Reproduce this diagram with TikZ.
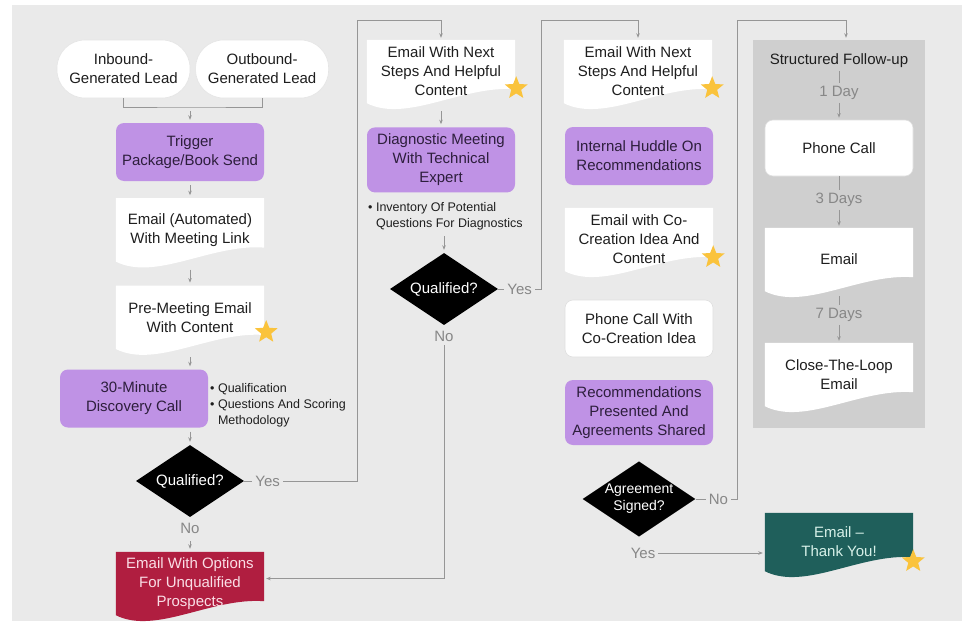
\documentclass[tikz,border=0pt]{standalone}
\usepackage{fontspec}
\setmainfont{Liberation Sans}
\usetikzlibrary{positioning,shapes.geometric,arrows.meta,calc}

\definecolor{pagegray}{RGB}{234,234,234}
\definecolor{panelgray}{RGB}{207,207,207}
\definecolor{purplefill}{RGB}{191,146,229}
\definecolor{purpletext}{RGB}{45,30,60}
\definecolor{redfill}{RGB}{176,30,64}
\definecolor{redtext}{RGB}{250,222,230}
\definecolor{tealfill}{RGB}{31,95,91}
\definecolor{tealtext}{RGB}{214,240,232}
\definecolor{linegray}{RGB}{150,150,150}
\definecolor{labelgray}{RGB}{135,135,135}
\definecolor{starfill}{RGB}{250,195,60}
\definecolor{inktext}{RGB}{30,30,30}

\newcommand{\boxfont}{\fontsize{15pt}{19pt}\selectfont}
\newcommand{\notefont}{\fontsize{12.5pt}{16pt}\selectfont}
\newcommand{\diafont}{\fontsize{14pt}{17pt}\selectfont}

\pgfdeclarelayer{back}
\pgfdeclarelayer{docs}
\pgfsetlayers{back,docs,main}

% wavy document outline behind a node
\newcommand{\docshape}[2]{%
  \begin{pgfonlayer}{docs}
    \fill[#2] (#1.north west) -- (#1.north east) -- ($(#1.south east)+(0,-14)$)
      .. controls ($(#1.south east)+(-53,-18)$) and ($(#1.south west)+(40,20)$) .. (#1.south west) -- cycle;
  \end{pgfonlayer}}

\begin{document}
\begin{tikzpicture}[x=1pt, y=-1pt,
    pillnode/.style={rectangle, rounded corners=28pt, fill=white, draw=gray!20, line width=0.6pt, minimum width=133pt, minimum height=58pt, align=center, text=inktext, font=\boxfont},
    purplenode/.style={rectangle, rounded corners=8pt, fill=purplefill, text=purpletext, minimum width=148pt, minimum height=58pt, align=center, font=\boxfont},
    docnode/.style={rectangle, minimum width=148pt, minimum height=63pt, align=center, text=inktext, font=\boxfont},
    roundnode/.style={rectangle, rounded corners=8pt, fill=white, draw=gray!25, line width=0.6pt, minimum width=148pt, minimum height=57pt, align=center, text=inktext, font=\boxfont},
    decisionnode/.style={diamond, fill=black, text=white, minimum width=108pt, minimum height=72pt, inner sep=0pt, shape aspect=1.5, align=center, font=\boxfont},
    labelnode/.style={text=labelgray, inner sep=3pt, font=\boxfont},
    notenode/.style={align=left, text=inktext, inner sep=2pt, font=\notefont},
    starnode/.style={star, star points=5, star point ratio=2.3, fill=starfill, minimum size=24pt, inner sep=0pt},
    panelnode/.style={rectangle, fill=panelgray, minimum width=172pt, minimum height=388pt},
    link/.style={draw=linegray, line width=0.8pt},
    arr/.style={link, -{Stealth[length=4.5pt,width=3.5pt]}, shorten >=2pt},
    stub/.style={arr, shorten <=4pt, shorten >=3pt}]

    \useasboundingbox (0,0) rectangle (969,629);
    \begin{pgfonlayer}{back}
        \fill[white] (0,0) rectangle (969,629);
        \fill[pagegray] (12,5) rectangle (962,621);
        \node[panelnode] (fup) at (839,234) {};
    \end{pgfonlayer}

    % first column
    \node[pillnode] (inb) at (123.5,69) {Inbound-\\Generated Lead};
    \node[pillnode] (outb) [right=5pt of inb] {Outbound-\\Generated Lead};
    \coordinate (join) at (190,107);
    \node[purplenode] (trig) at (190,152) {Trigger\\Package/Book Send};
    \node[docnode] (auto) [below=17pt of trig] {Email (Automated)\\With Meeting Link};
    \node[docnode] (pre) [below=24pt of auto] {Pre-Meeting Email\\With Content};
    \node[purplenode] (disc) at (134,398.5) {30-Minute\\Discovery Call};
    \node[notenode, anchor=north west] (discnotes) at (208,381) {• Qualification\\• Questions And Scoring\\\phantom{• }Methodology};
    \node[decisionnode] (q1) at (190,481) {Qualified?};
    \node[labelnode] (yes1) [right=8pt of q1] {Yes};
    \node[labelnode] (no1) [below=3pt of q1] {No};
    \node[docnode, text=redtext] (unq) at (190,583.5) {Email With Options\\For Unqualified\\Prospects};

    % second column
    \node[docnode] (nx1) at (441,71.5) {Email With Next\\Steps And Helpful\\Content};
    \node[purplenode, minimum height=65pt] (diag) [below=24pt of nx1] {Diagnostic Meeting\\With Technical\\Expert};
    \node[notenode, anchor=north west] (diagnotes) at (366,200) {• Inventory Of Potential\\\phantom{• }Questions For Diagnostics};
    \node[decisionnode] (q2) at (444,289) {Qualified?};
    \node[labelnode] (yes2) [right=6pt of q2] {Yes};
    \node[labelnode] (no2) [below=3pt of q2] {No};

    % third column
    \node[docnode] (nx2) at (638,71.5) {Email With Next\\Steps And Helpful\\Content};
    \node[purplenode] (huddle) at (639,156) {Internal Huddle On\\Recommendations};
    \node[docnode] (cocreate) at (639,239.5) {Email with Co-\\Creation Idea And\\Content};
    \node[roundnode] (cocall) at (639,328.5) {Phone Call With\\Co-Creation Idea};
    \node[purplenode, minimum height=65pt] (recs) at (639,412.5) {Recommendations\\Presented And\\Agreements Shared};
    \node[decisionnode, font=\diafont] (q3) at (639,499) {Agreement\\Signed?};
    \node[labelnode] (no3) [right=10pt of q3] {No};
    \node[labelnode] (yes3) at (643,553) {Yes};
    \node[docnode, text=tealtext, minimum height=58pt] (thanks) at (839,542) {Email –\\Thank You!};

    % structured follow-up
    \node[inner sep=3pt, text=inktext, font=\boxfont] (fuptitle) at (839,61) {Structured Follow-up};
    \node[labelnode] (day1) at (839,93) {1 Day};
    \node[roundnode, minimum height=56pt] (fcall) at (839,148) {Phone Call};
    \node[labelnode] (day3) at (839,200) {3 Days};
    \node[docnode] (femail) at (839,259.5) {Email};
    \node[labelnode] (day7) at (839,315) {7 Days};
    \node[docnode] (floop) at (839,374.5) {Close-The-Loop\\Email};

    % document outlines
    \docshape{auto}{white}
    \docshape{pre}{white}
    \docshape{unq}{redfill}
    \docshape{nx1}{white}
    \docshape{nx2}{white}
    \docshape{cocreate}{white}
    \docshape{thanks}{tealfill}
    \docshape{femail}{white}
    \docshape{floop}{white}

    % stars
    \node[starnode] (star1) at ($(pre.south east)+(2,-17)$) {};
    \node[starnode] (star2) at ($(nx1.south east)+(1,-15)$) {};
    \node[starnode] (star3) at ($(nx2.south east)+(0,-15)$) {};
    \node[starnode] (star4) at ($(cocreate.south east)+(0,-14)$) {};
    \node[starnode] (star5) at ($(thanks.south east)+(0,-10)$) {};

    % connectors
    \draw[link] (inb.south) |- (join) -| (outb.south);
    \draw[stub] (join) -- (trig.north);
    \draw[stub] (trig.south) -- (auto.north);
    \draw[stub] ([yshift=-4pt]auto.south) -- (pre.north);
    \draw[stub] ([yshift=-4pt]pre.south) -- (pre.south |- disc.north);
    \draw[stub] (disc.south -| q1.north) -- (q1.north);
    \draw[link] (q1.east) -- (yes1.west);
    \draw[stub] (no1.south) -- (unq.north);
    \coordinate (r1) at (357,20);
    \draw[arr] (yes1.east) -| (r1) -| (nx1.north);

    \draw[stub] ([yshift=-4pt]nx1.south) -- (diag.north);
    \draw[stub] (diagnotes.south -| q2.north) -- (q2.north);
    \draw[link] (q2.east) -- (yes2.west);
    \draw[arr] (no2.south) |- ([yshift=5pt]unq.east);
    \coordinate (r2) at (541,20);
    \draw[arr] (yes2.east) -| (r2) -| (nx2.north);

    \draw[link] (q3.east) -- (no3.west);
    \coordinate (r3) at (737,20);
    \draw[arr] (no3.east) -| (r3) -| ([xshift=7pt]fup.north);
    \draw[arr] (yes3.east) -- (yes3.east -| thanks.west);

    \draw[link] (fuptitle) -- (day1);
    \draw[arr] (day1) -- (fcall);
    \draw[link] (fcall) -- (day3);
    \draw[arr] (day3) -- (femail);
    \draw[link] ([yshift=-5pt]femail.south) -- (day7);
    \draw[arr] (day7) -- (floop);

\end{tikzpicture}
\end{document}
